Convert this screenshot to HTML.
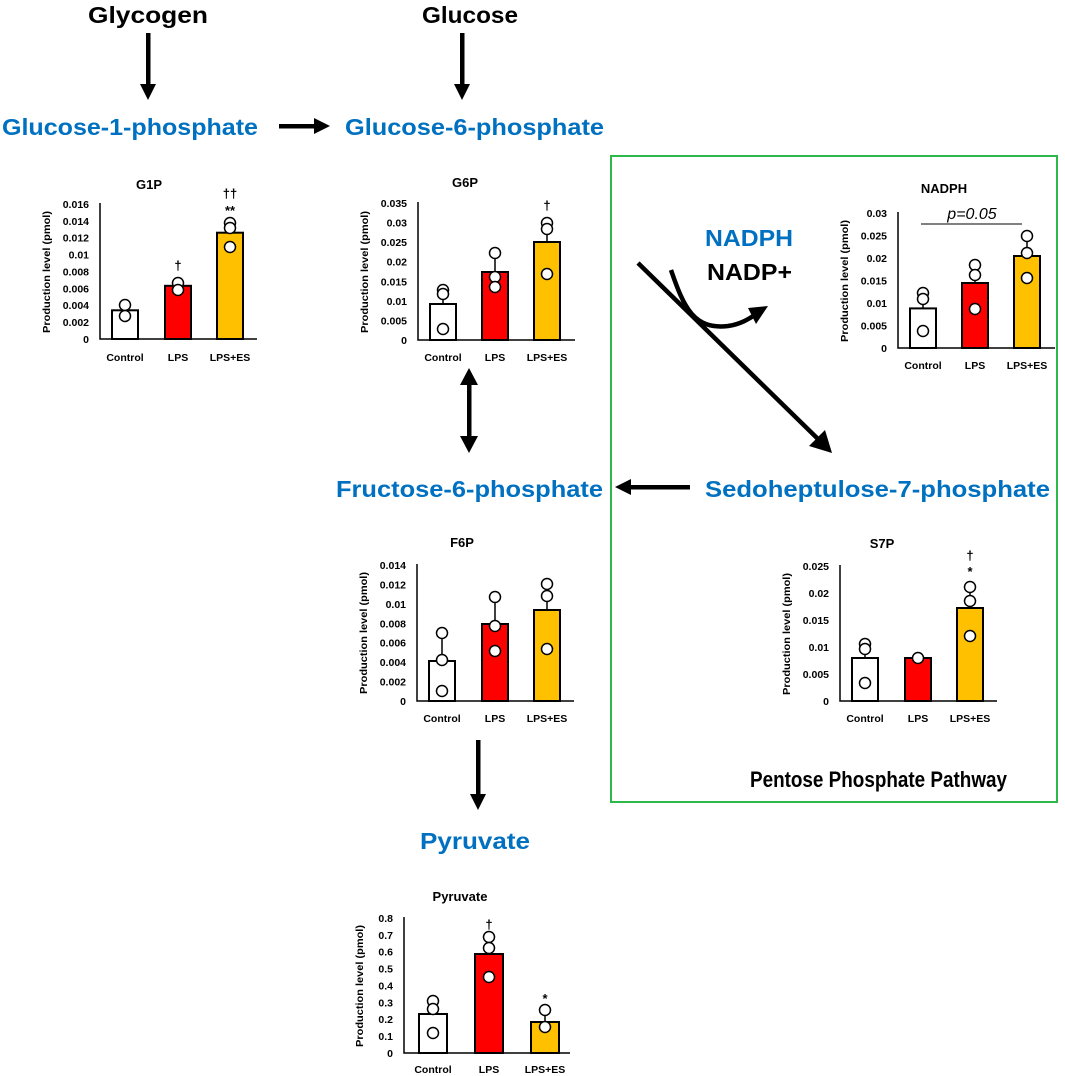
<!DOCTYPE html>
<html><head><meta charset="utf-8"><style>
html,body{margin:0;padding:0;background:#fff}
svg{display:block}
text{font-family:"Liberation Sans",Arial,sans-serif}
.big{font-size:23px;font-weight:bold;fill:#0070c0}
.bk{font-size:23px;font-weight:bold;fill:#000}
.t{font-size:10.5px;font-weight:bold;text-anchor:end}
.yl{font-size:10px;font-weight:bold;text-anchor:middle}
.xl{font-size:10.5px;font-weight:bold;text-anchor:middle}
.ti{font-size:13px;font-weight:bold;text-anchor:middle}
.mk{font-size:13px;font-weight:bold;text-anchor:middle}
.ax{stroke:#000;stroke-width:1.5;fill:none}
.b{stroke:#000;stroke-width:2}
.e{stroke:#000;stroke-width:1.5}
circle{fill:#fff;stroke:#000;stroke-width:1.5}
</style></head><body>
<svg width="1065" height="1076" viewBox="0 0 1065 1076" xmlns="http://www.w3.org/2000/svg">
<text x="148" y="23" class="bk" text-anchor="middle" textLength="120" lengthAdjust="spacingAndGlyphs">Glycogen</text>
<text x="470" y="23" class="bk" text-anchor="middle" textLength="96" lengthAdjust="spacingAndGlyphs">Glucose</text>
<text x="2" y="135" class="big" textLength="256" lengthAdjust="spacingAndGlyphs">Glucose-1-phosphate</text>
<text x="345" y="135" class="big" textLength="259" lengthAdjust="spacingAndGlyphs">Glucose-6-phosphate</text>
<text x="336" y="497" class="big" textLength="267" lengthAdjust="spacingAndGlyphs">Fructose-6-phosphate</text>
<text x="705" y="497" class="big" textLength="345" lengthAdjust="spacingAndGlyphs">Sedoheptulose-7-phosphate</text>
<text x="420" y="849" class="big" textLength="110" lengthAdjust="spacingAndGlyphs">Pyruvate</text>
<text x="705" y="246" class="big" textLength="88" lengthAdjust="spacingAndGlyphs">NADPH</text>
<text x="707" y="280" class="bk" textLength="85" lengthAdjust="spacingAndGlyphs">NADP+</text>
<text x="750" y="787" style="font-size:22px;font-weight:bold" textLength="257" lengthAdjust="spacingAndGlyphs">Pentose Phosphate Pathway</text>
<rect x="611" y="156" width="446" height="646" fill="none" stroke="#2db84a" stroke-width="2"/>
<g fill="#000" stroke="none">
<rect x="146" y="33" width="4.5" height="52"/><polygon points="140,84 156,84 148,100"/>
<rect x="460" y="33" width="4.5" height="52"/><polygon points="454,84 470,84 462,100"/>
<rect x="279" y="124" width="36" height="4.5"/><polygon points="314,118 314,134 330,126"/>
<polygon points="460,385 478,385 469,368"/><rect x="467" y="384" width="4.5" height="53"/><polygon points="460,436 478,436 469,453"/>
<rect x="630" y="485" width="60" height="4.5"/><polygon points="631,479 631,495 615,487"/>
<rect x="476" y="740" width="4.5" height="55"/><polygon points="470,794 486,794 478,810"/>
<polygon points="809,446 825,430 832,453"/>
<polygon points="748,308 768,306 756,324"/>
</g>
<line x1="638" y1="263" x2="818" y2="439" stroke="#000" stroke-width="4.5"/>
<path d="M671,270 C684,308 694,330 728,326 C742,324 750,318 758,313" fill="none" stroke="#000" stroke-width="4.5"/>

<g transform="translate(100,339)">
<text x="49" y="-150" class="ti">G1P</text>
<g class="t"><text x="-11" y="4">0</text><text x="-11" y="-12.9">0.002</text><text x="-11" y="-29.8">0.004</text><text x="-11" y="-46.6">0.006</text><text x="-11" y="-63.5">0.008</text><text x="-11" y="-80.4">0.01</text><text x="-11" y="-97.3">0.012</text><text x="-11" y="-114.1">0.014</text><text x="-11" y="-131">0.016</text></g>
<text class="yl" transform="translate(-50,-67) rotate(-90)" textLength="122" lengthAdjust="spacingAndGlyphs">Production level (pmol)</text>
<path class="ax" d="M0,-136 V0 H157"/>
<line class="e" x1="25" y1="-29" x2="25" y2="-35"/><line class="e" x1="78" y1="-53" x2="78" y2="-57"/><line class="e" x1="130" y1="-106" x2="130" y2="-116"/>
<rect class="b" x="12" y="-28.7" width="26" height="28.7" fill="#fff"/>
<rect class="b" x="65" y="-53.2" width="26" height="53.2" fill="#ff0000"/>
<rect class="b" x="117" y="-106.3" width="26" height="106.3" fill="#ffc000"/>
<circle cx="25" cy="-34" r="5.5"/><circle cx="25" cy="-23" r="5.5"/>
<circle cx="78" cy="-56" r="5.5"/><circle cx="78" cy="-49" r="5.5"/>
<circle cx="130" cy="-116" r="5.5"/><circle cx="130" cy="-111" r="5.5"/><circle cx="130" cy="-92" r="5.5"/>
<text class="mk" x="78" y="-69">†</text><text class="mk" x="130" y="-141">††</text><text class="mk" x="130" y="-124">**</text>
<g class="xl"><text x="25" y="22">Control</text><text x="78" y="22">LPS</text><text x="130" y="22">LPS+ES</text></g>
</g>

<g transform="translate(418,340)">
<text x="47" y="-153" class="ti">G6P</text>
<g class="t"><text x="-11" y="4">0</text><text x="-11" y="-15.6">0.005</text><text x="-11" y="-35.1">0.01</text><text x="-11" y="-54.7">0.015</text><text x="-11" y="-74.3">0.02</text><text x="-11" y="-93.9">0.025</text><text x="-11" y="-113.4">0.03</text><text x="-11" y="-133">0.035</text></g>
<text class="yl" transform="translate(-50,-68) rotate(-90)" textLength="122" lengthAdjust="spacingAndGlyphs">Production level (pmol)</text>
<path class="ax" d="M0,-138 V0 H157"/>
<line class="e" x1="25" y1="-36" x2="25" y2="-50"/><line class="e" x1="77" y1="-68" x2="77" y2="-87"/><line class="e" x1="129" y1="-98" x2="129" y2="-117"/>
<rect class="b" x="12" y="-36" width="26" height="36" fill="#fff"/>
<rect class="b" x="64" y="-68" width="26" height="68" fill="#ff0000"/>
<rect class="b" x="116" y="-98" width="26" height="98" fill="#ffc000"/>
<circle cx="25" cy="-50" r="5.5"/><circle cx="25" cy="-46" r="5.5"/><circle cx="25" cy="-11" r="5.5"/>
<circle cx="77" cy="-87" r="5.5"/><circle cx="77" cy="-63" r="5.5"/><circle cx="77" cy="-53" r="5.5"/>
<circle cx="129" cy="-117" r="5.5"/><circle cx="129" cy="-111" r="5.5"/><circle cx="129" cy="-66" r="5.5"/>
<text class="mk" x="129" y="-130">†</text>
<g class="xl"><text x="25" y="21">Control</text><text x="77" y="21">LPS</text><text x="129" y="21">LPS+ES</text></g>
</g>

<g transform="translate(417,701)">
<text x="45" y="-154" class="ti">F6P</text>
<g class="t"><text x="-11" y="4">0</text><text x="-11" y="-15.4">0.002</text><text x="-11" y="-34.9">0.004</text><text x="-11" y="-54.3">0.006</text><text x="-11" y="-73.7">0.008</text><text x="-11" y="-93.1">0.01</text><text x="-11" y="-112.6">0.012</text><text x="-11" y="-132">0.014</text></g>
<text class="yl" transform="translate(-50,-68) rotate(-90)" textLength="122" lengthAdjust="spacingAndGlyphs">Production level (pmol)</text>
<path class="ax" d="M0,-137 V0 H157"/>
<line class="e" x1="25" y1="-40" x2="25" y2="-68"/><line class="e" x1="78" y1="-77" x2="78" y2="-104"/><line class="e" x1="130" y1="-91" x2="130" y2="-117"/>
<rect class="b" x="12" y="-40" width="26" height="40" fill="#fff"/>
<rect class="b" x="65" y="-77" width="26" height="77" fill="#ff0000"/>
<rect class="b" x="117" y="-91" width="26" height="91" fill="#ffc000"/>
<circle cx="25" cy="-68" r="5.5"/><circle cx="25" cy="-41" r="5.5"/><circle cx="25" cy="-10" r="5.5"/>
<circle cx="78" cy="-104" r="5.5"/><circle cx="78" cy="-75" r="5.5"/><circle cx="78" cy="-50" r="5.5"/>
<circle cx="130" cy="-117" r="5.5"/><circle cx="130" cy="-105" r="5.5"/><circle cx="130" cy="-52" r="5.5"/>
<g class="xl"><text x="25" y="21">Control</text><text x="78" y="21">LPS</text><text x="130" y="21">LPS+ES</text></g>
</g>

<g transform="translate(404,1053)">
<text x="56" y="-152" class="ti">Pyruvate</text>
<g class="t"><text x="-11" y="4">0</text><text x="-11" y="-12.9">0.1</text><text x="-11" y="-29.8">0.2</text><text x="-11" y="-46.6">0.3</text><text x="-11" y="-63.5">0.4</text><text x="-11" y="-80.4">0.5</text><text x="-11" y="-97.3">0.6</text><text x="-11" y="-114.1">0.7</text><text x="-11" y="-131">0.8</text></g>
<text class="yl" transform="translate(-41,-67) rotate(-90)" textLength="122" lengthAdjust="spacingAndGlyphs">Production level (pmol)</text>
<path class="ax" d="M0,-136 V0 H166"/>
<line class="e" x1="29" y1="-39" x2="29" y2="-52"/><line class="e" x1="85" y1="-99" x2="85" y2="-116"/><line class="e" x1="141" y1="-31" x2="141" y2="-43"/>
<rect class="b" x="15" y="-39" width="28" height="39" fill="#fff"/>
<rect class="b" x="71" y="-99" width="28" height="99" fill="#ff0000"/>
<rect class="b" x="127" y="-31" width="28" height="31" fill="#ffc000"/>
<circle cx="29" cy="-52" r="5.5"/><circle cx="29" cy="-44" r="5.5"/><circle cx="29" cy="-20" r="5.5"/>
<circle cx="85" cy="-116" r="5.5"/><circle cx="85" cy="-105" r="5.5"/><circle cx="85" cy="-76" r="5.5"/>
<circle cx="141" cy="-43" r="5.5"/><circle cx="141" cy="-26" r="5.5"/>
<text class="mk" x="85" y="-124">†</text><text class="mk" x="141" y="-50">*</text>
<g class="xl"><text x="29" y="20">Control</text><text x="85" y="20">LPS</text><text x="141" y="20">LPS+ES</text></g>
</g>

<g transform="translate(898,348)">
<text x="46" y="-155" class="ti">NADPH</text>
<g class="t"><text x="-11" y="4">0</text><text x="-11" y="-18.5">0.005</text><text x="-11" y="-41">0.01</text><text x="-11" y="-63.5">0.015</text><text x="-11" y="-86">0.02</text><text x="-11" y="-108.5">0.025</text><text x="-11" y="-131">0.03</text></g>
<text class="yl" transform="translate(-50,-67) rotate(-90)" textLength="122" lengthAdjust="spacingAndGlyphs">Production level (pmol)</text>
<path class="ax" d="M0,-136 V0 H157"/>
<line x1="23" y1="-124" x2="124" y2="-124" stroke="#000" stroke-width="1"/>
<text x="74" y="-129" style="font-size:16px;font-style:italic;text-anchor:middle">p=0.05</text>
<line class="e" x1="25" y1="-40" x2="25" y2="-55"/><line class="e" x1="77" y1="-65" x2="77" y2="-83"/><line class="e" x1="129" y1="-92" x2="129" y2="-112"/>
<rect class="b" x="12" y="-39.6" width="26" height="39.6" fill="#fff"/>
<rect class="b" x="64" y="-65" width="26" height="65" fill="#ff0000"/>
<rect class="b" x="116" y="-92" width="26" height="92" fill="#ffc000"/>
<circle cx="25" cy="-55" r="5.5"/><circle cx="25" cy="-49" r="5.5"/><circle cx="25" cy="-17" r="5.5"/>
<circle cx="77" cy="-83" r="5.5"/><circle cx="77" cy="-73" r="5.5"/><circle cx="77" cy="-39" r="5.5"/>
<circle cx="129" cy="-112" r="5.5"/><circle cx="129" cy="-95" r="5.5"/><circle cx="129" cy="-70" r="5.5"/>
<g class="xl"><text x="25" y="21">Control</text><text x="77" y="21">LPS</text><text x="129" y="21">LPS+ES</text></g>
</g>

<g transform="translate(840,701)">
<text x="42" y="-153" class="ti">S7P</text>
<g class="t"><text x="-11" y="4">0</text><text x="-11" y="-23">0.005</text><text x="-11" y="-50">0.01</text><text x="-11" y="-77">0.015</text><text x="-11" y="-104">0.02</text><text x="-11" y="-131">0.025</text></g>
<text class="yl" transform="translate(-50,-67) rotate(-90)" textLength="122" lengthAdjust="spacingAndGlyphs">Production level (pmol)</text>
<path class="ax" d="M0,-136 V0 H157"/>
<line class="e" x1="25" y1="-43" x2="25" y2="-57"/><line class="e" x1="130" y1="-93" x2="130" y2="-114"/>
<rect class="b" x="12" y="-43" width="26" height="43" fill="#fff"/>
<rect class="b" x="65" y="-43" width="26" height="43" fill="#ff0000"/>
<rect class="b" x="117" y="-93" width="26" height="93" fill="#ffc000"/>
<circle cx="25" cy="-57" r="5.5"/><circle cx="25" cy="-52" r="5.5"/><circle cx="25" cy="-18" r="5.5"/>
<circle cx="78" cy="-43" r="5.5"/>
<circle cx="130" cy="-114" r="5.5"/><circle cx="130" cy="-100" r="5.5"/><circle cx="130" cy="-65" r="5.5"/>
<text class="mk" x="130" y="-141">†</text><text class="mk" x="130" y="-125">*</text>
<g class="xl"><text x="25" y="21">Control</text><text x="78" y="21">LPS</text><text x="130" y="21">LPS+ES</text></g>
</g>
</svg>
</body></html>
